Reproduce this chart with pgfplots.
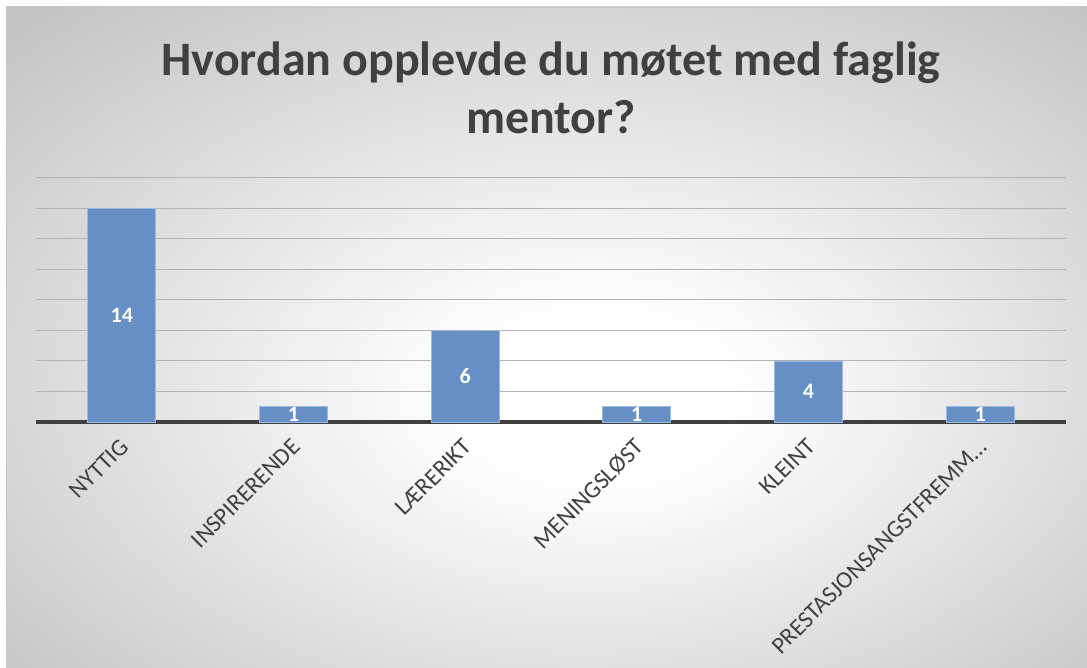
\documentclass[border=0pt]{standalone}
\usepackage{pgfplots}
\pgfplotsset{compat=1.18}
\usepackage{pgfplotstable}
\usepackage{fontspec}
\setmainfont{Carlito}
\definecolor{txt}{HTML}{404040}
\definecolor{barfill}{HTML}{658FC5}
\definecolor{baredge}{HTML}{9DBBE0}
\definecolor{gridc}{HTML}{B4B4B4}
\definecolor{bgedge}{HTML}{C4C4C4}
\pgfdeclareradialshading{bgshade}{\pgfpoint{2.5bp}{-4.8bp}}{color(0bp)=(white); color(6bp)=(white); color(36bp)=(bgedge); color(60bp)=(bgedge)}

\pgfplotstableread{
x y half
0 14 7
1 1 0.5
2 6 3
3 1 0.5
4 4 2
5 1 0.5
}\datatable

\begin{document}
\begin{tikzpicture}[x=1bp,y=1bp]
\useasboundingbox (0,0) rectangle (1087,668);
\fill[white] (0,0) rectangle (1087,668);
\shade[shading=bgshade] (6,-5) rectangle (1092,661);
\draw[color=black!22, line width=1.5bp] (6.5,-5) -- (6.5,660.5) -- (1092,660.5);
\node[font=\fontsize{48bp}{58bp}\selectfont\bfseries, text=txt, anchor=base, inner sep=0pt] at (551,592) {Hvordan opplevde du møtet med faglig};
\node[font=\fontsize{48bp}{58bp}\selectfont\bfseries, text=txt, anchor=base, inner sep=0pt] at (551,534) {mentor?};
\begin{axis}[
  at={(36bp,246bp)}, anchor=south west,
  scale only axis, width=1030bp, height=244bp,
  xmin=-0.5, xmax=5.5, ymin=0, ymax=16,
  ytick={2,4,...,16}, yticklabels={},
  ymajorgrids, grid style={gridc, line width=1bp},
  major tick length=0,
  axis line style={draw=none},
  xtick=data,
  xticklabels={NYTTIG,INSPIRERENDE,LÆRERIKT,MENINGSLØST,KLEINT,PRESTASJONSANGSTFREMM…},
  x tick label style={xshift=-3bp, yshift=-15bp, rotate=45, anchor=north east, inner sep=0pt, font=\fontsize{24bp}{28bp}\selectfont, text=txt},
  extra y ticks={0}, extra y tick labels={},
  extra y tick style={grid style={txt, line width=3.5bp}},
  clip=false,
]
\addplot[ybar, bar width=0.396, fill=barfill, draw=baredge, line width=0.8bp] table[x=x, y=y] {\datatable};
\addplot[draw=none, mark=none, point meta=explicit,
  nodes near coords={\bfseries\pgfmathprintnumber[assume math mode=true]{\pgfplotspointmeta}},
  every node near coord/.append style={anchor=center, font=\fontsize{22bp}{26bp}\selectfont, text=white}]
  table[x=x, y=half, meta=y] {\datatable};
\end{axis}
\end{tikzpicture}
\end{document}
